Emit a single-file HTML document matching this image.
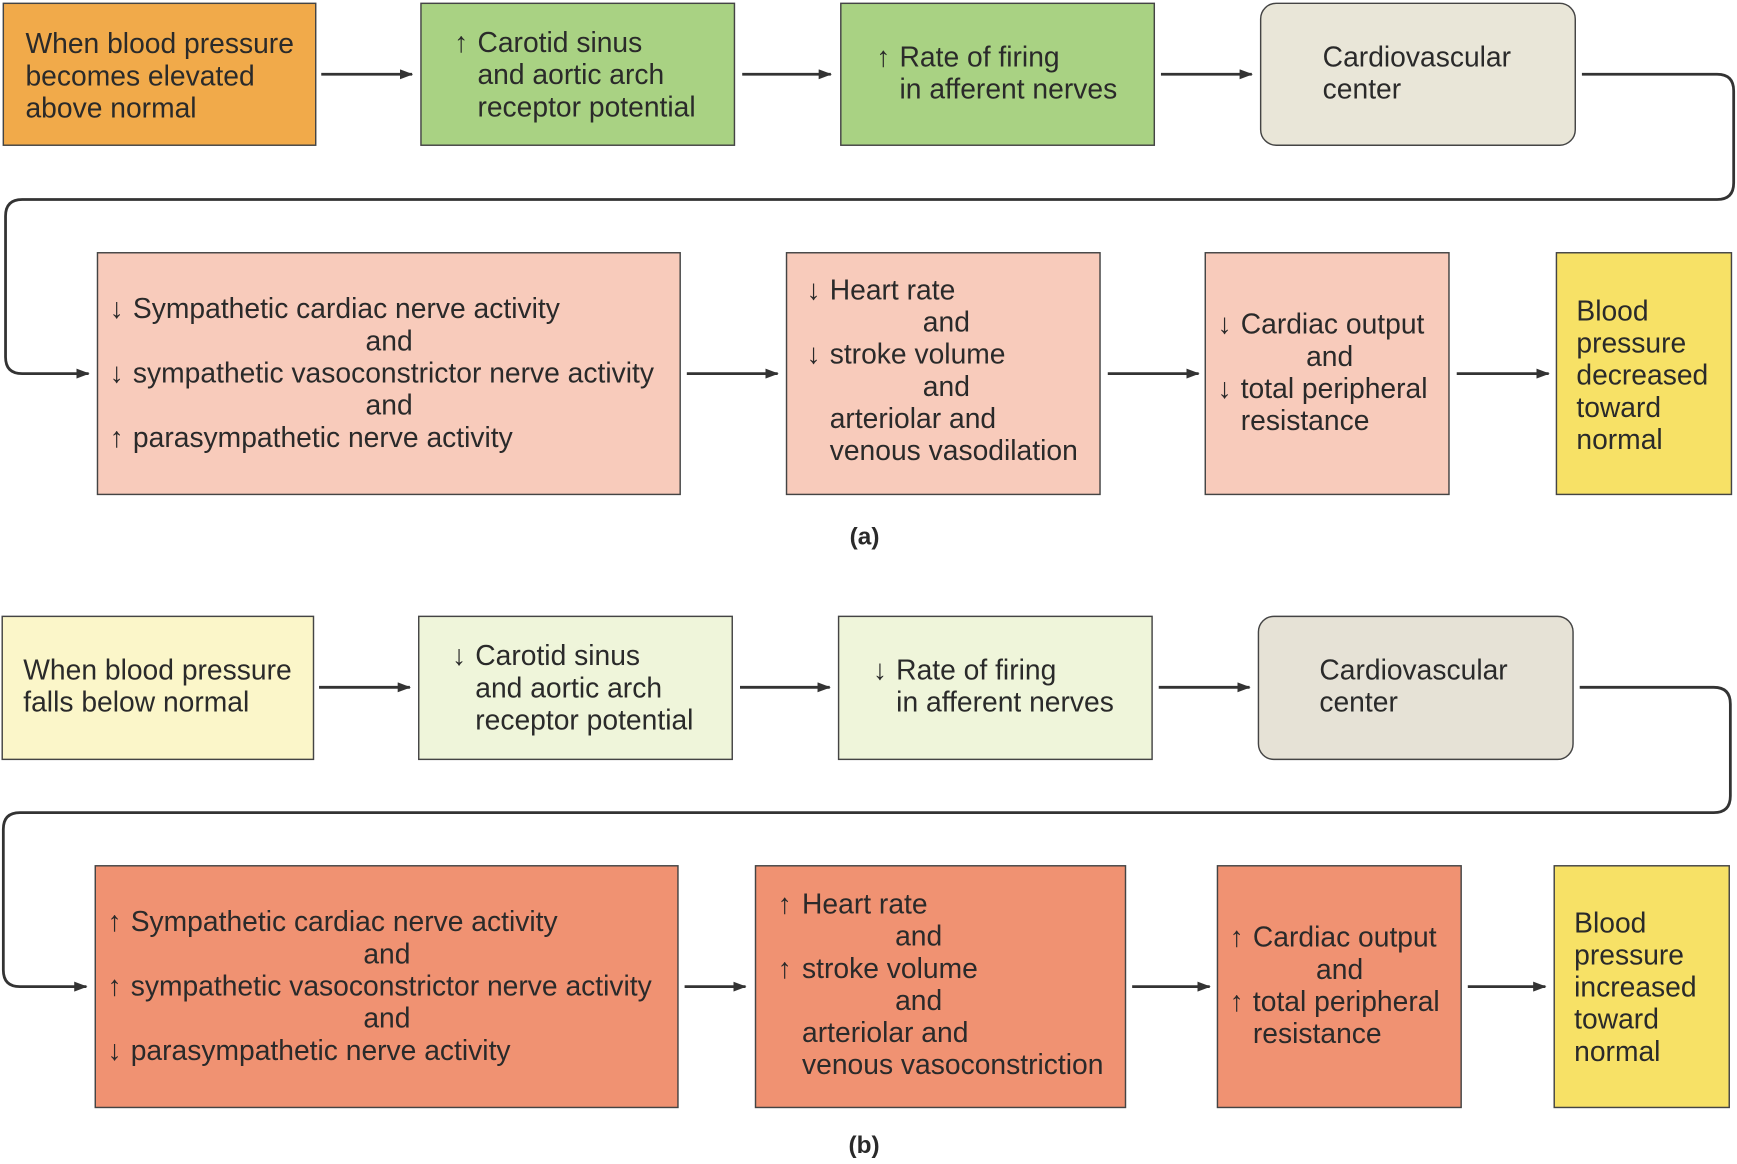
<!DOCTYPE html>
<html><head><meta charset="utf-8"><style>
html,body{margin:0;padding:0;background:#fff;}
svg{display:block;}
text{font-family:"Liberation Sans",sans-serif;font-size:25.5px;fill:#2a2a2a;}
</style></head><body>
<svg width="1737" height="1164" viewBox="0 0 1568 1050" preserveAspectRatio="none" xmlns="http://www.w3.org/2000/svg">
<defs>
<marker id="ah" markerWidth="12" markerHeight="9" refX="11" refY="4.5" orient="auto" markerUnits="userSpaceOnUse"><path d="M0,0 L12,4.5 L0,9 Z" fill="#333"/></marker>
</defs>
<g stroke="#444" stroke-width="1.3">
<rect x="3" y="3" width="282" height="128" fill="#f1aa4a"/>
<rect x="380" y="3" width="283" height="128" fill="#a9d283"/>
<rect x="759" y="3" width="283" height="128" fill="#a9d283"/>
<rect x="1138" y="3" width="284" height="128" rx="14" fill="#e9e6d8"/>
<rect x="88" y="228" width="526" height="218" fill="#f8cbbb"/>
<rect x="710" y="228" width="283" height="218" fill="#f8cbbb"/>
<rect x="1088" y="228" width="220" height="218" fill="#f8cbbb"/>
<rect x="1405" y="228" width="158" height="218" fill="#f7e166"/>
<rect x="2" y="556" width="281" height="129" fill="#fbf6c9"/>
<rect x="378" y="556" width="283" height="129" fill="#eff5da"/>
<rect x="757" y="556" width="283" height="129" fill="#eff5da"/>
<rect x="1136" y="556" width="284" height="129" rx="14" fill="#e6e2d6"/>
<rect x="86" y="781" width="526" height="218" fill="#f09272"/>
<rect x="682" y="781" width="334" height="218" fill="#f09272"/>
<rect x="1099" y="781" width="220" height="218" fill="#f09272"/>
<rect x="1403" y="781" width="158" height="218" fill="#f7e166"/>
</g>
<g stroke="#333" stroke-width="2.5" fill="none" marker-end="url(#ah)">
<line x1="290" y1="67" x2="372" y2="67"/>
<line x1="670" y1="67" x2="750" y2="67"/>
<line x1="1048" y1="67" x2="1130" y2="67"/>
<path d="M1428,67 H1550 Q1565,67 1565,82 V165 Q1565,180 1550,180 H20 Q5,180 5,195 V322 Q5,337 20,337 H80"/>
<line x1="620" y1="337" x2="702" y2="337"/>
<line x1="1000" y1="337" x2="1082" y2="337"/>
<line x1="1315" y1="337" x2="1398" y2="337"/>
<line x1="288" y1="620" x2="370" y2="620"/>
<line x1="668" y1="620" x2="749" y2="620"/>
<line x1="1046" y1="620" x2="1128" y2="620"/>
<path d="M1426,620 H1547 Q1562,620 1562,635 V718 Q1562,733 1547,733 H18 Q3,733 3,748 V875 Q3,890 18,890 H78"/>
<line x1="618" y1="890" x2="673" y2="890"/>
<line x1="1022" y1="890" x2="1092" y2="890"/>
<line x1="1325" y1="890" x2="1395" y2="890"/>
</g>
<text x="23" y="48">When blood pressure</text><text x="23" y="77">becomes elevated</text><text x="23" y="106">above normal</text>
<text x="410" y="47">↑</text><text x="431" y="47">Carotid sinus</text><text x="431" y="76">and aortic arch</text><text x="431" y="105">receptor potential</text>
<text x="791" y="60">↑</text><text x="812" y="60">Rate of firing</text><text x="812" y="89">in afferent nerves</text>
<text x="1194" y="60">Cardiovascular</text><text x="1194" y="89">center</text>
<text x="99" y="287">↓</text><text x="120" y="287">Sympathetic cardiac nerve activity</text>
<text x="330" y="316">and</text>
<text x="99" y="345">↓</text><text x="120" y="345">sympathetic vasoconstrictor nerve activity</text>
<text x="330" y="374">and</text>
<text x="99" y="403">↑</text><text x="120" y="403">parasympathetic nerve activity</text>
<text x="728" y="270">↓</text><text x="749" y="270">Heart rate</text>
<text x="833" y="299">and</text>
<text x="728" y="328">↓</text><text x="749" y="328">stroke volume</text>
<text x="833" y="357">and</text>
<text x="749" y="386">arteriolar and</text><text x="749" y="415">venous vasodilation</text>
<text x="1099" y="301">↓</text><text x="1120" y="301">Cardiac output</text>
<text x="1179" y="330">and</text>
<text x="1099" y="359">↓</text><text x="1120" y="359">total peripheral</text>
<text x="1120" y="388">resistance</text>
<text x="1423" y="289">Blood</text><text x="1423" y="318">pressure</text><text x="1423" y="347">decreased</text><text x="1423" y="376">toward</text><text x="1423" y="405">normal</text>
<text x="767" y="491" style="font-weight:bold;font-size:22px">(a)</text>
<text x="21" y="613">When blood pressure</text><text x="21" y="642">falls below normal</text>
<text x="408" y="600">↓</text><text x="429" y="600">Carotid sinus</text><text x="429" y="629">and aortic arch</text><text x="429" y="658">receptor potential</text>
<text x="788" y="613">↓</text><text x="809" y="613">Rate of firing</text><text x="809" y="642">in afferent nerves</text>
<text x="1191" y="613">Cardiovascular</text><text x="1191" y="642">center</text>
<text x="97" y="840">↑</text><text x="118" y="840">Sympathetic cardiac nerve activity</text>
<text x="328" y="869">and</text>
<text x="97" y="898">↑</text><text x="118" y="898">sympathetic vasoconstrictor nerve activity</text>
<text x="328" y="927">and</text>
<text x="97" y="956">↓</text><text x="118" y="956">parasympathetic nerve activity</text>
<text x="702" y="824">↑</text><text x="724" y="824">Heart rate</text>
<text x="808" y="853">and</text>
<text x="702" y="882">↑</text><text x="724" y="882">stroke volume</text>
<text x="808" y="911">and</text>
<text x="724" y="940">arteriolar and</text><text x="724" y="969">venous vasoconstriction</text>
<text x="1110" y="854">↑</text><text x="1131" y="854">Cardiac output</text>
<text x="1188" y="883">and</text>
<text x="1110" y="912">↑</text><text x="1131" y="912">total peripheral</text>
<text x="1131" y="941">resistance</text>
<text x="1421" y="841">Blood</text><text x="1421" y="870">pressure</text><text x="1421" y="899">increased</text><text x="1421" y="928">toward</text><text x="1421" y="957">normal</text>
<text x="766" y="1040" style="font-weight:bold;font-size:22px">(b)</text>
</svg>
</body></html>
